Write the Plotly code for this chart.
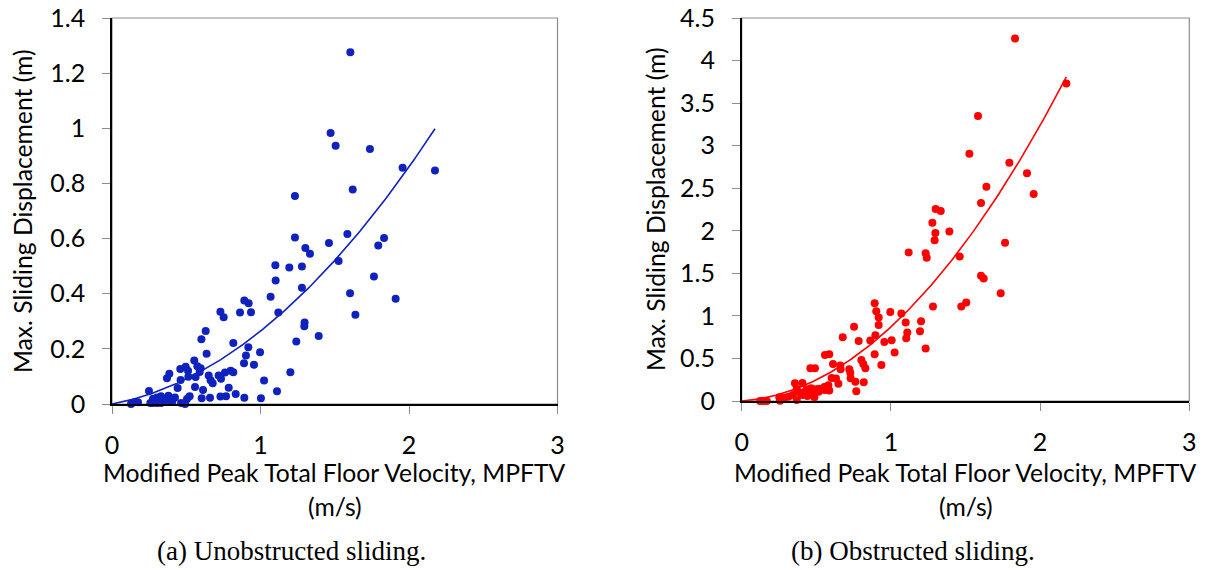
import numpy as np
import plotly.graph_objects as go

# ---- Data: (a) Unobstructed sliding ----
mpftv_a = [1.605, 1.472, 1.506, 1.737, 1.957, 2.175, 1.232, 1.621, 1.232, 1.585,
           1.461, 1.302, 1.333, 1.832, 1.793, 1.526, 1.100, 1.194, 1.279, 1.102,
           1.279, 1.764, 1.603, 1.910, 1.068, 1.120, 1.639, 0.891, 0.920, 0.862,
           0.936, 0.730, 0.752, 1.297, 1.295, 1.392, 1.241, 0.631, 0.602, 0.817,
           0.918, 0.997, 0.637, 0.902, 0.889, 0.956, 0.554, 1.201, 0.460, 0.496,
           0.512, 0.575, 0.597, 0.386, 0.370, 0.462, 0.514, 0.563, 0.590, 0.651,
           0.718, 0.734, 0.664, 0.678, 0.761, 0.799, 0.817, 1.024, 1.111, 1.003,
           0.891, 0.833, 0.786, 0.768, 0.730, 0.660, 0.604, 0.613, 0.559, 0.442,
           0.249, 0.523, 0.505, 0.492, 0.465, 0.424, 0.406, 0.380, 0.357, 0.330,
           0.303, 0.276, 0.276, 0.303, 0.330, 0.258, 0.175, 0.148, 0.128, 0.402,
           0.366]
disp_a = [1.276, 0.983, 0.937, 0.925, 0.857, 0.847, 0.754, 0.778, 0.604, 0.617,
          0.584, 0.566, 0.545, 0.602, 0.575, 0.519, 0.503, 0.495, 0.499, 0.448,
          0.422, 0.462, 0.402, 0.382, 0.389, 0.332, 0.324, 0.375, 0.365, 0.332,
          0.333, 0.335, 0.315, 0.296, 0.282, 0.247, 0.227, 0.265, 0.235, 0.221,
          0.206, 0.188, 0.182, 0.176, 0.148, 0.142, 0.158, 0.115, 0.127, 0.135,
          0.121, 0.137, 0.130, 0.110, 0.093, 0.087, 0.099, 0.098, 0.116, 0.103,
          0.103, 0.092, 0.086, 0.075, 0.114, 0.121, 0.115, 0.085, 0.046, 0.021,
          0.023, 0.036, 0.059, 0.028, 0.027, 0.023, 0.021, 0.051, 0.062, 0.058,
          0.047, 0.028, 0.018, 0.000, 0.004, 0.024, 0.010, 0.030, 0.018, 0.028,
          0.024, 0.019, 0.004, 0.004, 0.004, 0.004, 0.006, 0.006, 0.000, 0.017,
          0.010]

# ---- Data: (b) Obstructed sliding ----
mpftv_b = [1.832, 2.176, 1.584, 1.526, 1.794, 1.912, 1.640, 1.957, 1.604, 1.300,
           1.334, 1.278, 1.392, 1.298, 1.293, 1.765, 1.119, 1.233, 1.240, 1.461,
           1.604, 1.622, 1.736, 1.505, 1.472, 1.282, 0.891, 0.902, 0.918, 0.918,
           0.996, 1.070, 1.099, 1.202, 1.195, 1.110, 1.103, 1.233, 0.753, 0.677,
           0.784, 0.862, 0.896, 0.956, 1.005, 1.025, 0.891, 0.936, 0.558, 0.587,
           0.612, 0.661, 0.663, 0.460, 0.491, 0.721, 0.728, 0.802, 0.815, 0.829,
           0.730, 0.762, 0.818, 0.768, 0.648, 0.632, 0.603, 0.581, 0.587, 0.554,
           0.520, 0.498, 0.474, 0.487, 0.440, 0.407, 0.357, 0.369, 0.384, 0.404,
           0.369, 0.342, 0.313, 0.286, 0.257, 0.252, 0.168, 0.141, 0.123, 0.436,
           0.465, 0.516, 0.556, 0.424]
disp_b = [4.259, 3.729, 3.349, 2.906, 2.800, 2.675, 2.518, 2.431, 2.325, 2.255,
          2.231, 2.094, 1.992, 1.973, 1.890, 1.859, 1.745, 1.737, 1.682, 1.698,
          1.471, 1.439, 1.267, 1.157, 1.110, 1.110, 1.149, 1.055, 0.980, 0.894,
          1.047, 1.027, 0.922, 0.937, 0.820, 0.804, 0.737, 0.616, 0.871, 0.749,
          0.706, 0.710, 0.773, 0.694, 0.714, 0.569, 0.549, 0.424, 0.541, 0.549,
          0.435, 0.416, 0.373, 0.384, 0.384, 0.373, 0.333, 0.482, 0.435, 0.384,
          0.267, 0.227, 0.220, 0.114, 0.204, 0.263, 0.271, 0.184, 0.122, 0.165,
          0.145, 0.137, 0.090, 0.043, 0.059, 0.212, 0.208, 0.141, 0.102, 0.071,
          0.012, 0.071, 0.051, 0.039, 0.004, 0.043, 0.000, 0.000, 0.000, 0.137,
          0.149, 0.110, 0.129, 0.110]

x_ticks = [0, 1, 2, 3]
y_ticks_a = [0, 0.2, 0.4, 0.6, 0.8, 1, 1.2, 1.4]
y_ticks_b = [0, 0.5, 1, 1.5, 2, 2.5, 3, 3.5, 4, 4.5]

x_title = "Modified Peak Total Floor Velocity, MPFTV"
x_unit = "(m/s)"
y_title = "Max. Sliding Displacement (m)"
caption_a = "(a) Unobstructed sliding."
caption_b = "(b) Obstructed sliding."

BLUE = "#0F22BE"
RED = "#FF0000"


def trend(x, y):
    """Least-squares 2nd-order polynomial through the origin (trendline)."""
    x = np.asarray(x, float)
    y = np.asarray(y, float)
    A = np.column_stack([x, x ** 2])
    c, *_ = np.linalg.lstsq(A, y, rcond=None)
    xs = np.linspace(0, x.max(), 200)
    return xs, c[0] * xs + c[1] * xs ** 2


W, H = 1206, 570
fig = go.Figure()

xa, ya = trend(mpftv_a, disp_a)
xb, yb = trend(mpftv_b, disp_b)

fig.add_trace(go.Scatter(x=xa, y=ya, mode="lines", line=dict(color=BLUE, width=1.6),
                         xaxis="x", yaxis="y", showlegend=False, hoverinfo="skip"))
fig.add_trace(go.Scatter(x=mpftv_a, y=disp_a, mode="markers",
                         marker=dict(color=BLUE, size=8),
                         xaxis="x", yaxis="y", showlegend=False, cliponaxis=False))
fig.add_trace(go.Scatter(x=xb, y=yb, mode="lines", line=dict(color=RED, width=1.6),
                         xaxis="x2", yaxis="y2", showlegend=False, hoverinfo="skip"))
fig.add_trace(go.Scatter(x=mpftv_b, y=disp_b, mode="markers",
                         marker=dict(color=RED, size=8),
                         xaxis="x2", yaxis="y2", showlegend=False, cliponaxis=False))

TICKFONT = dict(family="Lato", size=25, color="#000000")
TITLEFONT = dict(family="Lato", size=24.7, color="#000000")
CAPFONT = dict(family="Liberation Serif", size=27, color="#000000")

# pixel geometry (page coordinates)
pa = dict(x0=112, x1=557.5, y0=18, y1=404)
pb = dict(x0=741.7, x1=1189.3, y0=18, y1=401)


def px_x(p):
    return p / W


def px_y(p):
    return 1 - p / H


def xaxis_cfg(p):
    return dict(domain=[px_x(p["x0"]), px_x(p["x1"])], range=[0, 3],
                tickvals=x_ticks, ticktext=[str(t) for t in x_ticks],
                showgrid=False, zeroline=False, showline=True, linecolor="#000000",
                linewidth=1.5, ticks="outside", ticklen=8, tickwidth=1.2,
                tickcolor="#8C8C8C", tickfont=TICKFONT, ticklabelstandoff=10,
                ticklabeloverflow="allow", automargin=False, fixedrange=True)


def yaxis_cfg(p, rng, ticks, fmt):
    return dict(domain=[px_y(p["y1"]), px_y(p["y0"])], range=rng,
                tickvals=ticks, ticktext=[fmt(t) for t in ticks],
                showgrid=False, zeroline=False, showline=True, linecolor="#000000",
                linewidth=1.5, ticks="outside", ticklen=8, tickwidth=1.2,
                tickcolor="#8C8C8C", tickfont=TICKFONT, ticklabelstandoff=12,
                ticklabeloverflow="allow", automargin=False, fixedrange=True)


fmt = lambda t: ("%g" % t)

fig.update_layout(
    width=W, height=H,
    margin=dict(l=0, r=0, t=0, b=0, autoexpand=False),
    paper_bgcolor="#FFFFFF", plot_bgcolor="#FFFFFF",
    showlegend=False,
    xaxis=dict(xaxis_cfg(pa), anchor="y"),
    yaxis=dict(yaxis_cfg(pa, [0, 1.4], y_ticks_a, fmt), anchor="x"),
    xaxis2=dict(xaxis_cfg(pb), anchor="y2"),
    yaxis2=dict(yaxis_cfg(pb, [0, 4.5], y_ticks_b, fmt), anchor="x2"),
)

# plot-area frames (gray top/right borders)
for xr, yr in (("x", "y"), ("x2", "y2")):
    fig.add_shape(type="rect", xref=xr + " domain", yref=yr + " domain",
                  x0=0, x1=1, y0=0, y1=1, line=dict(color="#8C8C8C", width=1.2),
                  layer="below")

annots = []
for p, cap, cx_cap in ((pa, caption_a, 291), (pb, caption_b, 913)):
    cx = (p["x0"] + p["x1"]) / 2
    annots.append(dict(x=px_x(cx), y=px_y(472), xref="paper", yref="paper",
                       text=x_title, showarrow=False, font=TITLEFONT,
                       xanchor="center", yanchor="middle"))
    annots.append(dict(x=px_x(cx), y=px_y(506), xref="paper", yref="paper",
                       text=x_unit, showarrow=False, font=TITLEFONT,
                       xanchor="center", yanchor="middle"))
    annots.append(dict(x=px_x(cx_cap), y=px_y(551), xref="paper", yref="paper",
                       text=cap, showarrow=False, font=CAPFONT,
                       xanchor="center", yanchor="middle"))
annots.append(dict(x=px_x(22), y=px_y(211), xref="paper", yref="paper",
                   text=y_title, showarrow=False, font=TITLEFONT, textangle=-90,
                   xanchor="center", yanchor="middle"))
annots.append(dict(x=px_x(655), y=px_y(209), xref="paper", yref="paper",
                   text=y_title, showarrow=False, font=TITLEFONT, textangle=-90,
                   xanchor="center", yanchor="middle"))
fig.update_layout(annotations=annots)

# remove the browser's default 8px body margin so the figure fills the window
fig.write_html("out.html",
               config={"displayModeBar": False},
               post_script="document.body.style.margin='0px';"
                           "document.body.style.overflow='hidden';")
